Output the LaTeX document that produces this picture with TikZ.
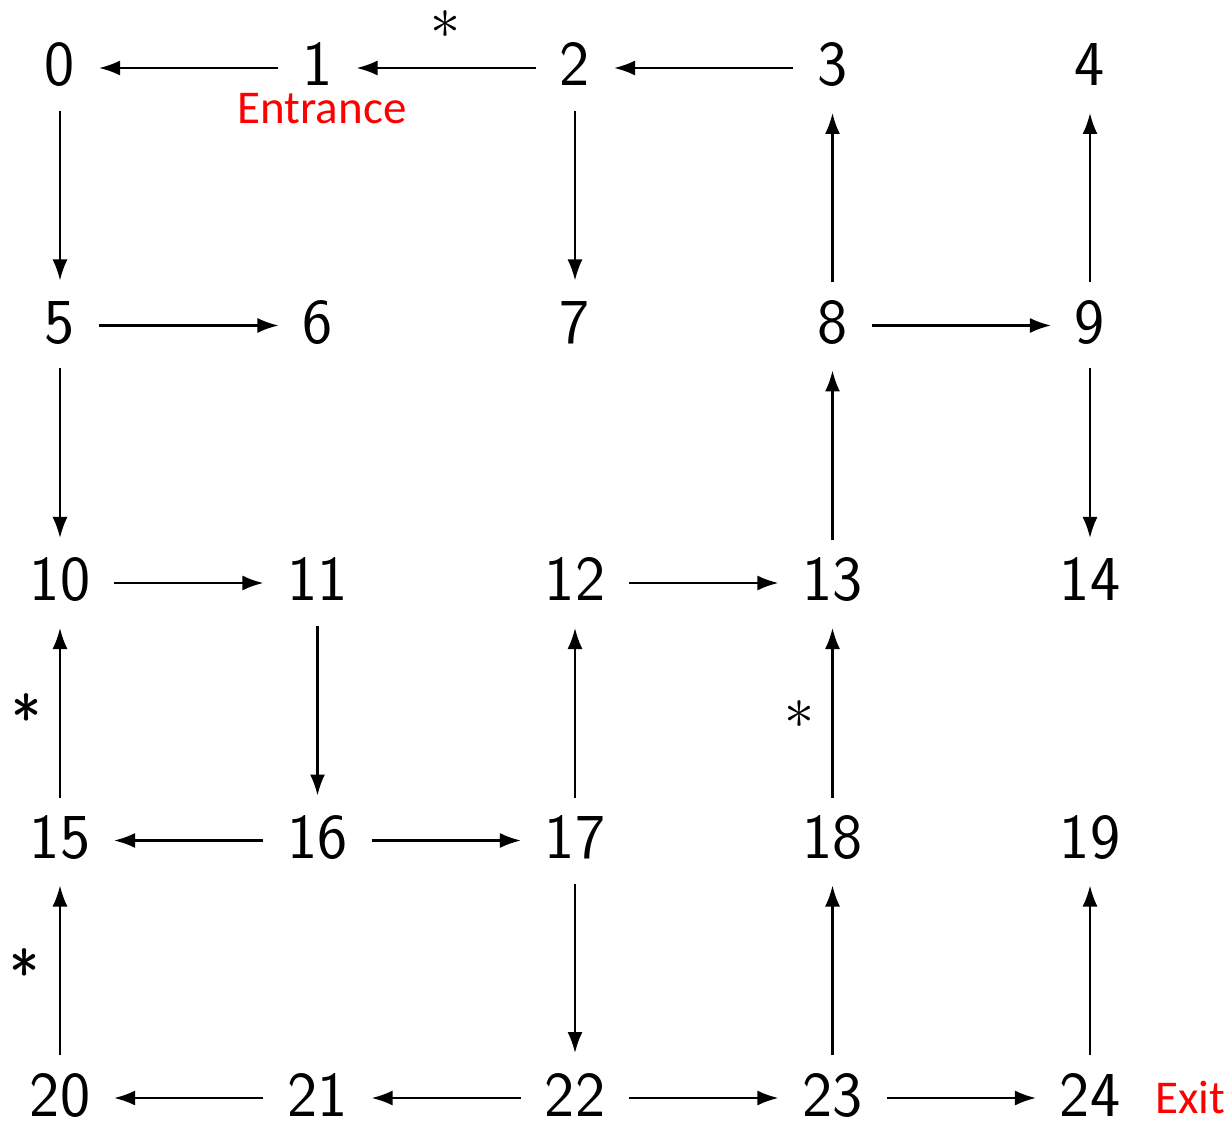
\documentclass[tikz,border=0pt]{standalone}
\usepackage{fontspec}
\newfontfamily\carl{Carlito}
\usetikzlibrary{arrows.meta}
\definecolor{exred}{RGB}{255,0,0}
\begin{document}
\begin{tikzpicture}[x=1pt,y=1pt,
  num/.style={font=\fontsize{64}{64}\selectfont\sffamily, text height=40pt, text depth=4pt,
    inner xsep=24pt, inner ysep=0pt, outer sep=0pt},
  edge/.style={line width=2.2pt, -{Latex[length=21pt,width=15pt]}},
  vedge/.style={edge, shorten <=21pt, shorten >=23pt},
  lbl/.style={font=\fontsize{47}{47}\selectfont\carl, text=exred, inner sep=0pt,
    text height=30pt, text depth=0pt},
  thinstar/.style={scale=6, inner sep=0pt},
  boldstar/.style={font=\fontsize{64}{64}\selectfont\sffamily, inner sep=0pt}]
\useasboundingbox (0,0) rectangle (1230,1120);
\foreach \r in {0,...,4}{
  \foreach \c in {0,...,4}{
    \pgfmathtruncatemacro\n{5*\r+\c}
    \node[num] (n\n) at ({60+257.5*\c},{1120-(68+257.5*\r)}) {\n};
  }
}
\draw[edge] (n1) -- (n0);
\draw[edge] (n2) -- (n1);
\draw[edge] (n3) -- (n2);
\draw[vedge] (n0) -- (n5);
\draw[vedge] (n2) -- (n7);
\draw[vedge] (n8) -- (n3);
\draw[vedge] (n9) -- (n4);
\draw[edge] (n5) -- (n6);
\draw[edge] (n8) -- (n9);
\draw[vedge] (n5) -- (n10);
\draw[vedge] (n9) -- (n14);
\draw[vedge] (n13) -- (n8);
\draw[edge] (n10) -- (n11);
\draw[edge] (n12) -- (n13);
\draw[vedge] (n11) -- (n16);
\draw[vedge] (n17) -- (n12);
\draw[vedge] (n18) -- (n13);
\draw[vedge] (n15) -- (n10);
\draw[edge] (n16) -- (n15);
\draw[edge] (n16) -- (n17);
\draw[vedge] (n17) -- (n22);
\draw[vedge] (n23) -- (n18);
\draw[vedge] (n24) -- (n19);
\draw[vedge] (n20) -- (n15);
\draw[edge] (n21) -- (n20);
\draw[edge] (n22) -- (n21);
\draw[edge] (n22) -- (n23);
\draw[edge] (n23) -- (n24);
\node[lbl] (entr) at (322,1011) {Entrance};
\node[lbl] (exit) at (1190,22) {Exit};
\node[thinstar] (s1) at (445,1095) {$\ast$};
\node[thinstar] (s2) at (799,405) {$\ast$};
\node[boldstar] (s3) at (27,402) {*};
\node[boldstar] (s4) at (25,147) {*};
\end{tikzpicture}
\end{document}
